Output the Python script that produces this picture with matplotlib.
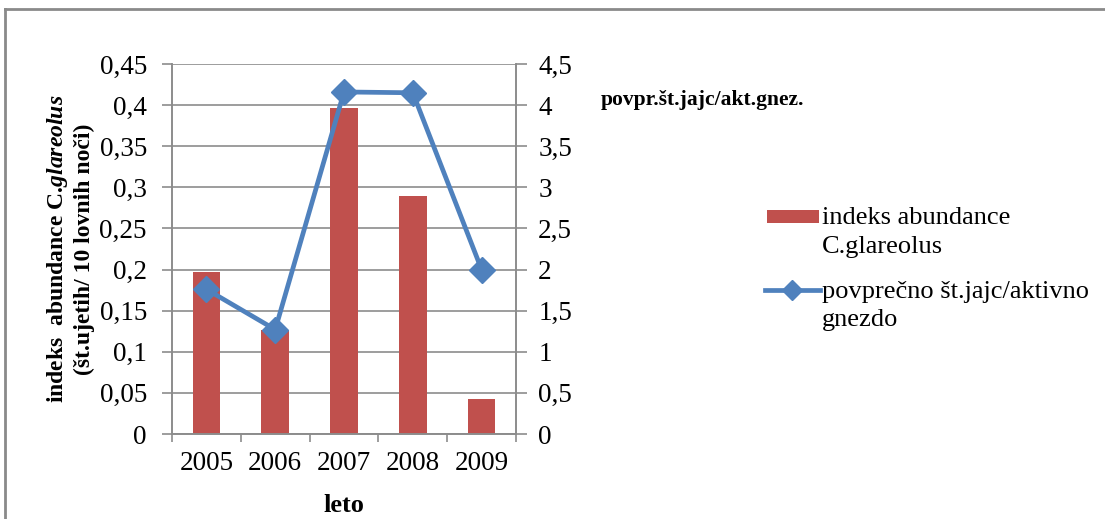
import matplotlib
matplotlib.use("Agg")
import matplotlib.pyplot as plt
from matplotlib.lines import Line2D
from matplotlib.patches import Rectangle
import numpy as np

years = ["2005", "2006", "2007", "2008", "2009"]
abundance = [0.197, 0.126, 0.396, 0.289, 0.043]
eggs_per_nest = [1.76, 1.27, 4.16, 4.15, 2.00]
left_ticks = [0, 0.05, 0.1, 0.15, 0.2, 0.25, 0.3, 0.35, 0.4, 0.45]
left_labels = ["0", "0,05", "0,1", "0,15", "0,2", "0,25", "0,3", "0,35", "0,4", "0,45"]
right_ticks = [0, 0.5, 1, 1.5, 2, 2.5, 3, 3.5, 4, 4.5]
right_labels = ["0", "0,5", "1", "1,5", "2", "2,5", "3", "3,5", "4", "4,5"]
bar_legend = ["indeks abundance", "C.glareolus"]
line_legend = ["povprečno št.jajc/aktivno", "gnezdo"]

plt.rcParams["font.family"] = ["Liberation Serif", "DejaVu Serif"]
plt.rcParams["mathtext.fontset"] = "custom"
plt.rcParams["mathtext.it"] = "Liberation Serif:italic:bold"
plt.rcParams["mathtext.rm"] = "Liberation Serif:bold"

BAR = "#C0504D"
LINE = "#4F81BD"
GRID = "#8C8C8C"
TICK_FS = 19.5

fig = plt.figure(figsize=(11.05, 5.19), dpi=100)
W, H = 1105, 519


def fx(px):
    return px / W


def fy(py):
    return 1 - py / H


ax = fig.add_axes([fx(172), fy(434), (516 - 172) / W, (434 - 64) / H])
ax2 = ax.twinx()

x = np.arange(len(years))
ax.bar(x, abundance, width=0.4, color=BAR, zorder=2)
ax.set_xlim(-0.5, len(years) - 0.5)
ax.set_ylim(0, 0.45)
ax.set_yticks(left_ticks)
ax.set_yticklabels(left_labels, fontsize=TICK_FS)
ax.yaxis.grid(True, color=GRID, linewidth=1.2, zorder=0)
ax.set_axisbelow(True)
ax.tick_params(axis="y", direction="out", length=7, width=1.2, color=GRID, pad=11)

ax.set_xticks(x)
ax.set_xticklabels(years, fontsize=TICK_FS)
ax.set_xticks(np.arange(-0.5, len(years)), minor=True)
ax.tick_params(axis="x", which="major", length=0, pad=12)
ax.tick_params(axis="x", which="minor", direction="out", length=6, width=1.2, color=GRID)

ax2.plot(x, eggs_per_nest, color=LINE, linewidth=3.4, marker="D", markersize=13.5,
         zorder=3)
ax2.set_ylim(0, 4.5)
ax2.set_yticks(right_ticks)
ax2.set_yticklabels(right_labels, fontsize=TICK_FS)
ax2.tick_params(axis="y", direction="out", length=8, width=1.2, color=GRID, pad=8)

for a in (ax, ax2):
    a.spines["top"].set_visible(False)
    for s in ("left", "right", "bottom"):
        a.spines[s].set_color(GRID)
        a.spines[s].set_linewidth(1.2)

ax.set_xlabel("leto", fontsize=19, fontweight="bold", labelpad=13)
ax.set_ylabel("indeks  abundance C.$\\mathit{glareolus}$\n(št.ujetih/ 10 lovnih noči)",
              fontsize=17, fontweight="bold", labelpad=3, linespacing=1.25)

fig.text(fx(601), fy(100), "povpr.št.jajc/akt.gnez.", fontsize=15.5,
         fontweight="bold", va="center", ha="left")

# legend: swatches aligned with the first line of each two-line label
fig.add_artist(Rectangle((fx(767), fy(223)), fx(52), 13 / H, facecolor=BAR,
                         edgecolor="none", transform=fig.transFigure))
fig.add_artist(Line2D([fx(765), fx(820)], [fy(290), fy(290)], color=LINE, linewidth=3.4,
                      transform=fig.transFigure))
fig.add_artist(Line2D([fx(792)], [fy(290)], color=LINE, marker="D", markersize=10,
                      transform=fig.transFigure))
for label, base in zip(bar_legend + line_legend, [224, 253, 298, 326]):
    fig.text(fx(822), fy(base), label, fontsize=19, va="baseline", ha="left")

# outer chart frame (top and left edges)
fig.add_artist(Line2D([fx(5), fx(5)], [0, fy(9)], color="#8A8A8A", linewidth=2,
                      transform=fig.transFigure))
fig.add_artist(Line2D([fx(5), 1], [fy(9), fy(9)], color="#8A8A8A", linewidth=2,
                      transform=fig.transFigure))

fig.savefig("out.png", dpi=100)
